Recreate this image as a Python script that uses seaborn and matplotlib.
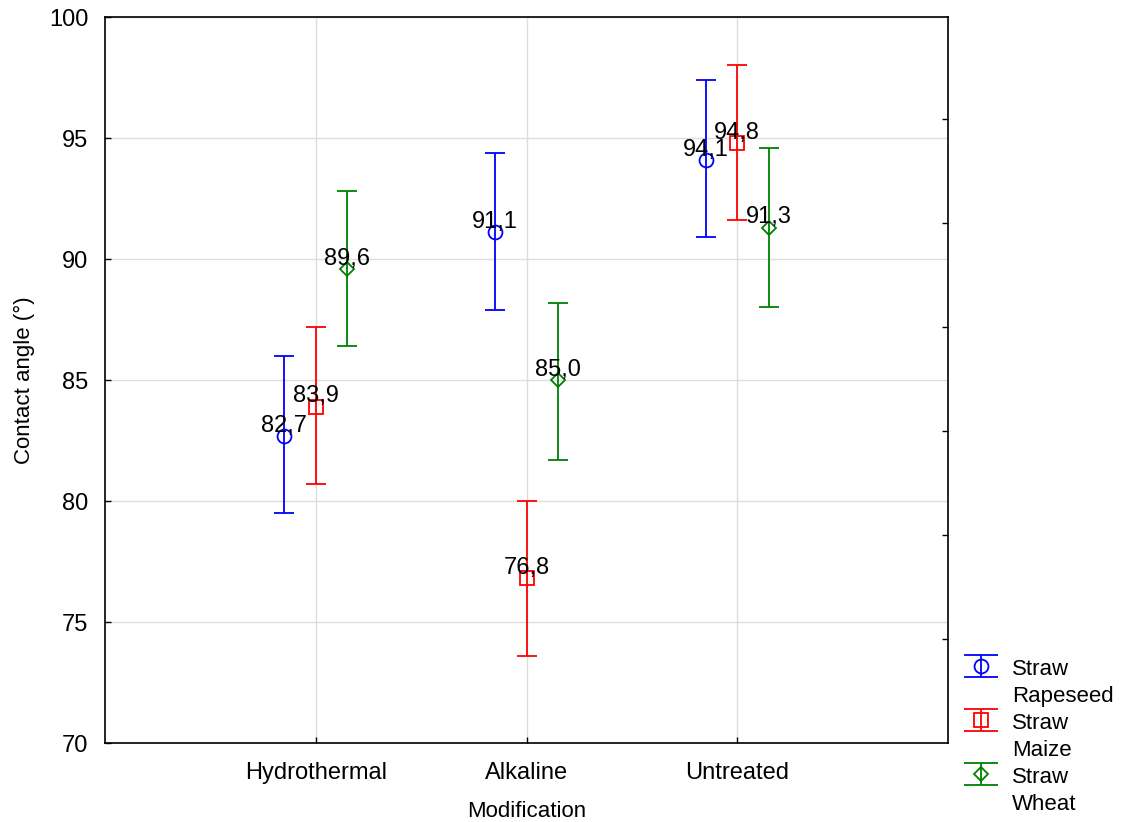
import numpy as np
import pandas as pd
import matplotlib
matplotlib.use("Agg")
import matplotlib.pyplot as plt
from matplotlib.lines import Line2D
import seaborn as sns

# Data
modifications = ["Hydrothermal", "Alkaline", "Untreated"]
materials = ["Straw Rapeseed", "Straw Maize", "Straw Wheat"]
rapeseed_mean = [82.7, 91.1, 94.1]
rapeseed_low = [79.5, 87.9, 90.9]
rapeseed_high = [86.0, 94.4, 97.4]
maize_mean = [83.9, 76.8, 94.8]
maize_low = [80.7, 73.6, 91.6]
maize_high = [87.2, 80.0, 98.0]
wheat_mean = [89.6, 85.0, 91.3]
wheat_low = [86.4, 81.7, 88.0]
wheat_high = [92.8, 88.2, 94.6]

colors = ["#0000ff", "#ff0000", "#008000"]
markers = ["o", "s", "D"]
marker_sizes = [10, 10, 7.5]


def main():
    rows = []
    series = [(rapeseed_mean, rapeseed_low, rapeseed_high),
              (maize_mean, maize_low, maize_high),
              (wheat_mean, wheat_low, wheat_high)]
    for mat, (m, lo, hi) in zip(materials, series):
        for i, mod in enumerate(modifications):
            rows.append({"Modification": mod, "Material": mat,
                         "angle": m[i], "low": lo[i], "high": hi[i]})
    df = pd.DataFrame(rows)

    sns.set_theme(style="whitegrid")
    plt.rcParams["font.family"] = ["Liberation Sans", "DejaVu Sans"]
    plt.rcParams["text.color"] = "black"
    plt.rcParams["axes.labelcolor"] = "black"
    plt.rcParams["xtick.color"] = "black"
    plt.rcParams["ytick.color"] = "black"

    fig = plt.figure(figsize=(11.29, 8.22), dpi=100)
    ax = fig.add_axes([0.093, 0.0961, 0.7467, 0.8832])

    offsets = [-0.15, 0.0, 0.15]
    handles, labels = [], []
    for k, mat in enumerate(materials):
        sub = df[df["Material"] == mat]
        x = [modifications.index(v) + offsets[k] for v in sub["Modification"]]
        y = sub["angle"].values
        yerr = [y - sub["low"].values, sub["high"].values - y]
        style = dict(fmt=markers[k], color=colors[k], mfc="none", mec=colors[k],
                     ms=marker_sizes[k], mew=1.3, elinewidth=1.3, capthick=1.3)
        ax.errorbar(x, y, yerr=yerr, capsize=7.5, **style)
        for xi, yi in zip(x, y):
            ax.annotate(f"{yi:.1f}".replace(".", ","), (xi, yi),
                        xytext=(0, 3), textcoords="offset points",
                        ha="center", va="baseline", fontsize=17, color="black")
        # legend proxy (not visible in the axes) with wider caps
        proxy = ax.errorbar([np.nan], [np.nan], yerr=[1.0], capsize=12.5, **style)
        first, second = mat.split(" ", 1)
        handles += [proxy, Line2D([], [], linestyle="none")]
        labels += [first, second]

    ax.set_xlim(-1, 3)
    ax.set_ylim(70, 100)
    ax.set_xticks(range(len(modifications)))
    ax.set_xticklabels(modifications)
    ax.set_yticks([70, 75, 80, 85, 90, 95, 100])
    ax.tick_params(axis="both", labelsize=17, direction="in", length=4,
                   width=1, color="black", left=True, bottom=True)
    ax.tick_params(axis="x", pad=14)
    ax.tick_params(axis="y", pad=12)
    ax.grid(True, color="#dddddd", linewidth=1)
    for s in ax.spines.values():
        s.set_color("black")
        s.set_linewidth(1.2)
    ax.set_xlabel("Modification", fontsize=16, labelpad=12)
    ax.set_ylabel("Contact angle (°)", fontsize=16, labelpad=10)

    # right-hand tick marks
    ax2 = ax.twinx()
    ax2.set_ylim(70, 100)
    ax2.set_yticks([74.3, 78.6, 82.9, 87.2, 91.5, 95.8])
    ax2.set_yticklabels([])
    ax2.grid(False)
    ax2.tick_params(axis="y", direction="in", length=4, width=1, color="black", right=True)
    for s in ax2.spines.values():
        s.set_visible(False)

    ax.legend(handles, labels, loc="upper left", bbox_to_anchor=(1.013, 0.118),
              frameon=False, fontsize=16, handlelength=2.0, handleheight=1.0,
              handletextpad=0.4, labelspacing=0.2, borderaxespad=0,
              borderpad=0)

    fig.savefig("out.png", dpi=100)
    plt.close(fig)


if __name__ == "__main__":
    main()
